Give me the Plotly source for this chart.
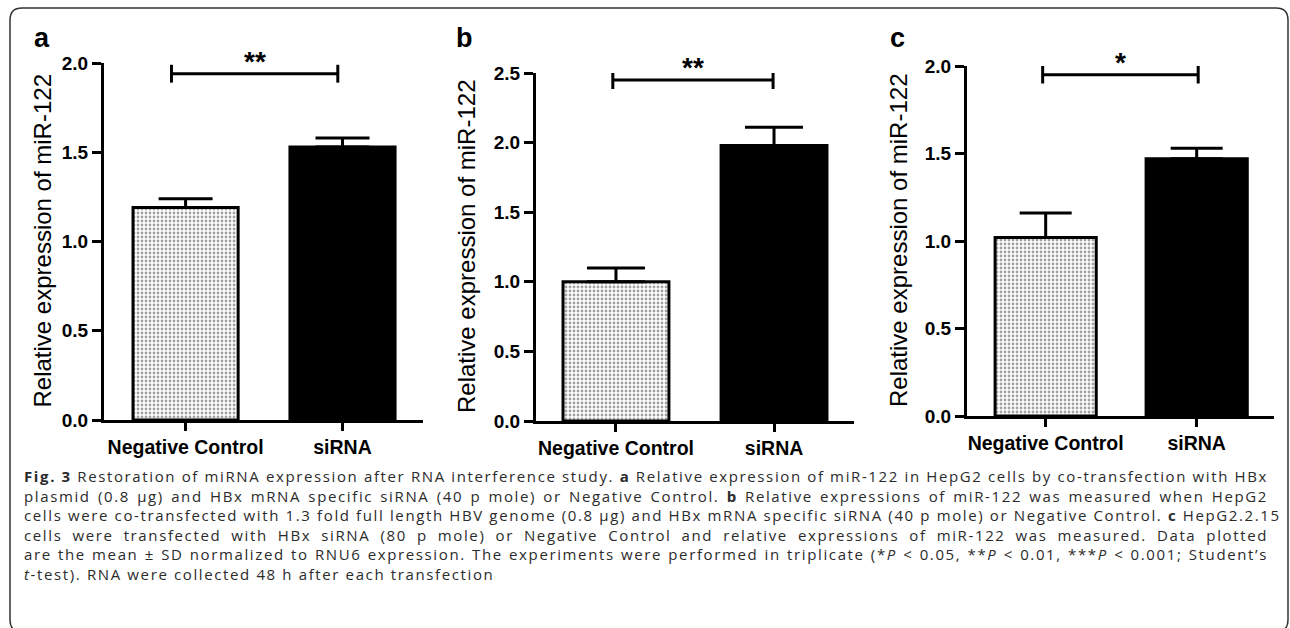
import plotly.graph_objects as go

# ---------------- data ----------------
categories = ["Negative Control", "siRNA"]
panel_labels = ["a", "b", "c"]
mean_a = [1.19, 1.53]
sd_a = [0.05, 0.05]
mean_b = [1.00, 1.98]
sd_b = [0.10, 0.13]
mean_c = [1.02, 1.47]
sd_c = [0.14, 0.06]
significance = ["**", "**", "*"]
y_max = [2.0, 2.5, 2.0]
y_tick_vals = [[0.0, 0.5, 1.0, 1.5, 2.0],
               [0.0, 0.5, 1.0, 1.5, 2.0, 2.5],
               [0.0, 0.5, 1.0, 1.5, 2.0]]
bracket_y = [1.94, 2.45, 1.95]
y_title = "Relative expression of miR-122"

W, H = 1290, 628


def px(x):
    return x / W


def py(y):
    return 1 - y / H


geo = [
    dict(l=104, r=423, b=420, t=63, xr=[-0.52, 1.513], title_x=42, lab_x=42,
         br=[-0.09, 0.97], cap=0.05, ew=27),
    dict(l=536, r=854, b=421, t=73, xr=[-0.506, 1.506], title_x=466, lab_x=465,
         br=[-0.02, 0.994], cap=0.065, ew=29),
    dict(l=967, r=1274, b=416, t=66, xr=[-0.521, 1.512], title_x=899, lab_x=897,
         br=[-0.02, 1.01], cap=0.05, ew=26),
]
means = [mean_a, mean_b, mean_c]
sds = [sd_a, sd_b, sd_c]

fig = go.Figure()
shapes = []
annotations = []
layout = {}

for i in range(3):
    g = geo[i]
    xa = "x" if i == 0 else f"x{i+1}"
    ya = "y" if i == 0 else f"y{i+1}"
    fig.add_trace(go.Bar(
        x=categories, y=means[i], xaxis=xa, yaxis=ya,
        width=0.67,
        marker=dict(color=["white", "black"],
                    line=dict(color="black", width=3),
                    pattern=dict(shape=[".", ""], fgcolor="#111",
                                 bgcolor="white", size=4, solidity=0.4)),
        error_y=dict(type="data", array=sds[i], arrayminus=[0, 0],
                     symmetric=False, thickness=3, width=g["ew"],
                     color="black"),
        showlegend=False, hoverinfo="skip"))
    xkey = "xaxis" if i == 0 else f"xaxis{i+1}"
    ykey = "yaxis" if i == 0 else f"yaxis{i+1}"
    layout[xkey] = dict(
        domain=[px(g["l"]), px(g["r"])], anchor=ya, range=g["xr"],
        type="category", showline=True, linecolor="black", linewidth=3,
        ticks="outside", ticklen=8, tickwidth=3, tickcolor="black",
        showgrid=False, zeroline=False, automargin=False,
        tickfont=dict(family="Liberation Sans", size=19.5, color="black",
                      weight="bold"))
    layout[ykey] = dict(
        domain=[py(g["b"]), py(g["t"])], anchor=xa, range=[0, y_max[i]],
        tickvals=y_tick_vals[i], ticktext=[f"{v:.1f}" for v in y_tick_vals[i]],
        showline=True, linecolor="black", linewidth=3,
        ticks="outside", ticklen=9, tickwidth=3, tickcolor="black",
        showgrid=False, zeroline=False, automargin=False,
        tickfont=dict(family="Liberation Sans", size=19, color="black",
                      weight="bold"))
    x0, x1 = g["br"]
    yb = bracket_y[i]
    shapes.append(dict(type="line", xref=xa, yref=ya, x0=x0, x1=x1,
                       y0=yb, y1=yb, line=dict(color="black", width=3)))
    for xe in (x0, x1):
        shapes.append(dict(type="line", xref=xa, yref=ya, x0=xe, x1=xe,
                           y0=yb - g["cap"], y1=yb + g["cap"],
                           line=dict(color="black", width=3)))
    annotations.append(dict(text=f"<b>{significance[i]}</b>", xref=xa, yref=ya,
                            x=(x0 + x1) / 2, y=yb, yanchor="bottom",
                            xanchor="center", yshift=-5, showarrow=False,
                            font=dict(family="Liberation Sans", size=28,
                                      color="black")))
    annotations.append(dict(text=y_title, xref="paper", yref="paper",
                            x=px(g["title_x"]), y=(py(g["b"]) + py(g["t"])) / 2,
                            textangle=-90, showarrow=False, xanchor="center",
                            yanchor="middle",
                            font=dict(family="Liberation Sans", size=24,
                                      color="black")))
    annotations.append(dict(text=f"<b>{panel_labels[i]}</b>", xref="paper",
                            yref="paper", x=px(g["lab_x"]), y=py(38),
                            showarrow=False, xanchor="center", yanchor="middle",
                            font=dict(family="Liberation Sans", size=27,
                                      color="black")))

caption_lines = [
    "<b>Fig. 3</b> Restoration of miRNA expression after RNA interference study. <b>a</b> Relative expression of miR-122 in HepG2 cells by co-transfection with HBx",
    "plasmid (0.8 µg) and HBx mRNA specific siRNA (40 p mole) or Negative Control. <b>b</b> Relative expressions of miR-122 was measured when HepG2",
    "cells were co-transfected with 1.3 fold full length HBV genome (0.8 µg) and HBx mRNA specific siRNA (40 p mole) or Negative Control. <b>c</b> HepG2.2.15",
    "cells were transfected with HBx siRNA (80 p mole) or Negative Control and relative expressions of miR-122 was measured. Data plotted",
    "are the mean ± SD normalized to RNU6 expression. The experiments were performed in triplicate (*<i>P</i> < 0.05, **<i>P</i> < 0.01, ***<i>P</i> < 0.001; Student’s",
    "<i>t</i>-test). RNA were collected 48 h after each transfection",
]
caption_index = len(annotations)
annotations.append(dict(text="<br>".join(caption_lines), xref="paper",
                        yref="paper", x=px(22), y=py(464), xanchor="left",
                        yanchor="top", align="left", showarrow=False,
                        font=dict(family="Open Sans", size=15,
                                  color="#2b2b2b", weight=400)))

L, T, R, B, rad = 10, 8, 1288, 632, 12
path = (f"M {px(L)},{py(T + rad)} Q {px(L)},{py(T)} {px(L + rad)},{py(T)} "
        f"L {px(R - rad)},{py(T)} Q {px(R)},{py(T)} {px(R)},{py(T + rad)} "
        f"L {px(R)},{py(B - rad)} Q {px(R)},{py(B)} {px(R - rad)},{py(B)} "
        f"L {px(L + rad)},{py(B)} Q {px(L)},{py(B)} {px(L)},{py(B - rad)} Z")
shapes.append(dict(type="path", xref="paper", yref="paper", path=path,
                   line=dict(color="#333333", width=1.5), layer="below"))

fig.update_layout(
    width=W, height=H, margin=dict(l=0, r=0, t=0, b=0, autoexpand=False),
    paper_bgcolor="white", plot_bgcolor="white",
    shapes=shapes, annotations=annotations,
    **layout)

target_right = 1268
post = """
document.body.style.margin='0';
document.body.style.overflow='hidden';
var gd = document.getElementById('{plot_id}');
var t = gd.querySelector('g.annotation[data-index="%d"] text.annotation-text');
if(t){
  var R = %d;
  var gb = gd.getBoundingClientRect();
  var lines = t.querySelectorAll('tspan.line');
  if(lines.length>0){
    var l0 = lines[0];
    var b0 = l0.getBoundingClientRect();
    var nch = l0.textContent.length;
    var ls = (R - (b0.right - gb.left)) / nch;
    if(ls > 0){ t.style.letterSpacing = ls + 'px'; }
  }
  for(var k=0;k<lines.length-1;k++){
    var ln = lines[k];
    var n = (ln.textContent.match(/ /g)||[]).length;
    var bb = ln.getBoundingClientRect();
    var extra = R - (bb.right - gb.left);
    if(n>0 && extra>0){ ln.style.wordSpacing = (extra/n)+'px'; }
  }
}
""" % (caption_index, target_right)

fig.write_html("out.html", post_script=post, config={"displayModeBar": False})
